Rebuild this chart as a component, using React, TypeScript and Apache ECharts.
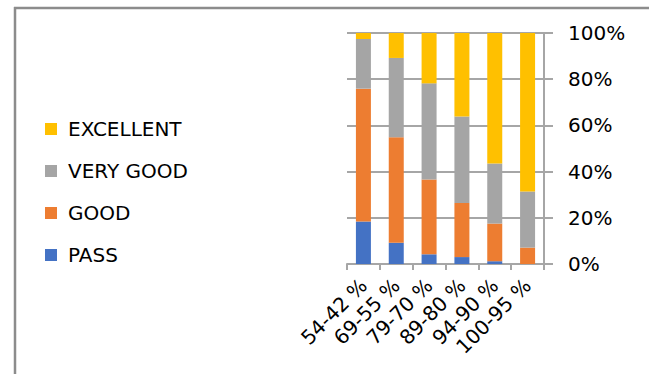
import React, { useEffect, useRef } from "react";
import * as echarts from "echarts";

const categories = ["54-42 %", "69-55 %", "79-70 %", "89-80 %", "94-90 %", "100-95 %"];
const passValues = [18.4, 9.2, 4.2, 3.0, 1.2, 0];
const goodValues = [57.5, 45.7, 32.4, 23.4, 16.3, 7.1];
const veryGoodValues = [21.5, 34.3, 41.6, 37.5, 26.0, 24.3];
const excellentValues = [2.6, 10.8, 21.8, 36.1, 56.5, 68.6];
const legendOrder = ["EXCELLENT", "VERY GOOD", "GOOD", "PASS"];

const FONT = "DejaVu Sans";
const GRID_COLOR = "#a6a6a6";

export default function App() {
  const ref = useRef<HTMLDivElement>(null);
  useEffect(() => {
    if (!ref.current) return;
    const chart = echarts.init(ref.current, undefined, { renderer: "svg" });
    const mk = (name: string, data: number[], color: string) => ({
      name,
      type: "bar",
      stack: "total",
      data,
      barWidth: 15,
      itemStyle: { color },
    });
    chart.setOption({
      animation: false,
      backgroundColor: "#ffffff",
      textStyle: { fontFamily: FONT },
      grid: { left: 347, right: 105, top: 33, bottom: 110, containLabel: false },
      legend: {
        orient: "vertical",
        left: 40,
        top: 114,
        data: legendOrder,
        icon: "rect",
        itemWidth: 12,
        itemHeight: 12,
        itemGap: 22,
        textStyle: { fontFamily: FONT, fontSize: 20, color: "#000", padding: [0, 0, 0, 6], lineHeight: 20 },
      },
      xAxis: {
        type: "category",
        data: categories,
        axisLine: { show: true, lineStyle: { color: GRID_COLOR, width: 2 } },
        axisTick: { show: true, length: 6, lineStyle: { color: GRID_COLOR, width: 2 } },
        axisLabel: { rotate: 45, fontFamily: FONT, fontSize: 20, color: "#000", margin: 18, interval: 0 },
      },
      yAxis: {
        type: "value",
        position: "right",
        min: 0,
        max: 100,
        interval: 20,
        axisLine: { show: true, lineStyle: { color: GRID_COLOR, width: 2 } },
        axisTick: { show: true, length: 9, lineStyle: { color: GRID_COLOR, width: 2 } },
        splitLine: { show: true, lineStyle: { color: GRID_COLOR, width: 2 } },
        axisLabel: { formatter: "{value}%", fontFamily: FONT, fontSize: 20, color: "#000", margin: 24 },
      },
      series: [
        mk("PASS", passValues, "#4472C4"),
        mk("GOOD", goodValues, "#ED7D31"),
        mk("VERY GOOD", veryGoodValues, "#A5A5A5"),
        mk("EXCELLENT", excellentValues, "#FFC000"),
      ],
      graphic: [
        { type: "line", shape: { x1: 14, y1: 8, x2: 649, y2: 8 }, style: { stroke: "#8c8c8c", lineWidth: 2.5 } },
        { type: "line", shape: { x1: 15, y1: 7, x2: 15, y2: 374 }, style: { stroke: "#8c8c8c", lineWidth: 2.5 } },
      ],
    });
    return () => chart.dispose();
  }, []);
  return <div ref={ref} style={{ position: "fixed", left: 0, top: 0, width: 649, height: 374 }} />;
}
